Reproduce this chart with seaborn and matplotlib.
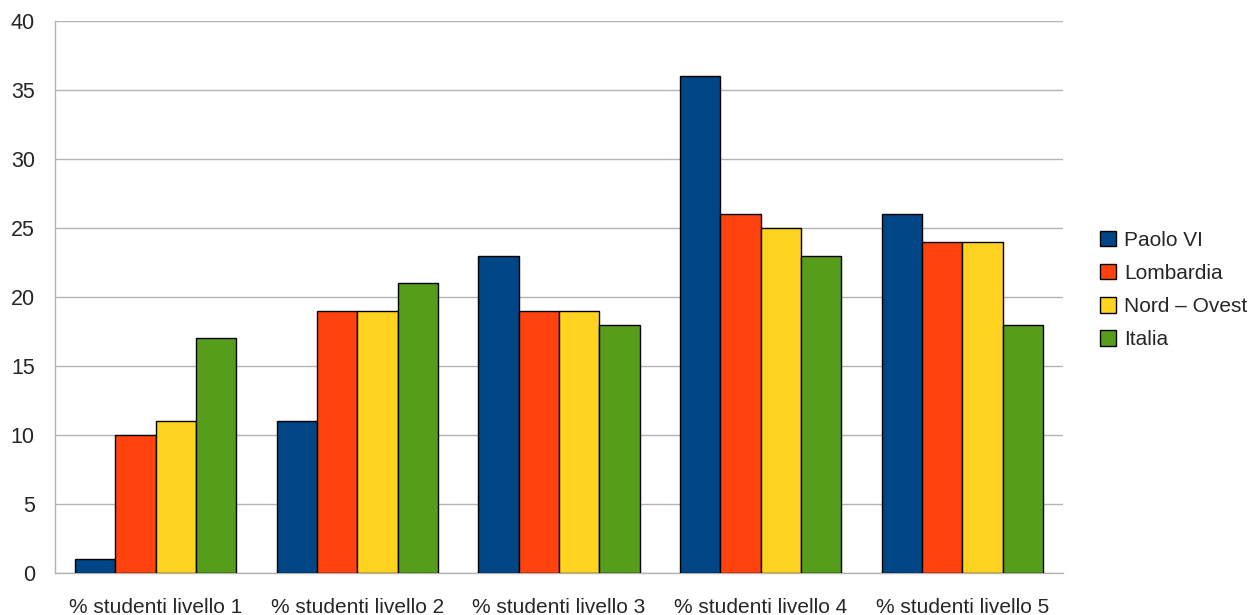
import matplotlib
matplotlib.use("Agg")
import matplotlib.pyplot as plt
import seaborn as sns
import pandas as pd
import numpy as np

categories = ["% studenti livello 1", "% studenti livello 2", "% studenti livello 3",
              "% studenti livello 4", "% studenti livello 5"]
series_names = ["Paolo VI", "Lombardia", "Nord – Ovest", "Italia"]
paolo_vi = [1, 11, 23, 36, 26]
lombardia = [10, 19, 19, 26, 24]
nord_ovest = [11, 19, 19, 25, 24]
italia = [17, 21, 18, 23, 18]
colors = ["#004586", "#ff420e", "#ffd320", "#579d1c"]

rows = []
for name, vals in zip(series_names, [paolo_vi, lombardia, nord_ovest, italia]):
    for c, v in zip(categories, vals):
        rows.append({"cat": c, "series": name, "val": v})
df = pd.DataFrame(rows)

sns.set_style("white")
plt.rcParams['font.family'] = ['Liberation Sans', 'DejaVu Sans']

fig = plt.figure(figsize=(12.57, 6.15), dpi=100)
ax = fig.add_axes([55/1257, 1-573/615, (1063-55)/1257, (573-21)/615])

sns.barplot(data=df, x="cat", y="val", hue="series", order=categories,
            hue_order=series_names, palette=colors, saturation=1, width=0.8, gap=0,
            edgecolor="black", linewidth=1, ax=ax, errorbar=None, zorder=3)

ax.set_ylim(0, 40)
ax.set_xlim(-0.5, len(categories) - 0.5)
ax.set_yticks(np.arange(0, 41, 5))
ax.grid(axis="y", color="#b3b3b3", linewidth=1, zorder=0)
ax.set_axisbelow(True)

ax.set_xticks(np.arange(-0.5, len(categories), 1.0))
ax.set_xticklabels([])
ax.set_xticks(np.arange(len(categories)), minor=True)
ax.set_xticklabels(categories, minor=True)
ax.tick_params(axis="x", which="major", length=7.5, color="#b3b3b3", width=1)
ax.tick_params(axis="x", which="minor", length=0, pad=18, labelsize=15)
ax.tick_params(axis="y", length=8, color="#b3b3b3", width=1, labelsize=15.5, pad=6.5)
ax.set_xlabel("")
ax.set_ylabel("")

for s in ["top", "right"]:
    ax.spines[s].set_visible(False)
for s in ["left", "bottom"]:
    ax.spines[s].set_color("#b3b3b3")
    ax.spines[s].set_linewidth(1)

leg = ax.legend(loc="center left", bbox_to_anchor=(1100/1257, 1-290/615),
                bbox_transform=fig.transFigure, frameon=False,
                borderpad=0, borderaxespad=0,
                fontsize=15, handlelength=0.77, handleheight=0.77, handletextpad=0.38,
                labelspacing=0.68)
for h in leg.legend_handles:
    h.set_edgecolor("black")
    h.set_linewidth(1)

fig.savefig("out.png", dpi=100)
